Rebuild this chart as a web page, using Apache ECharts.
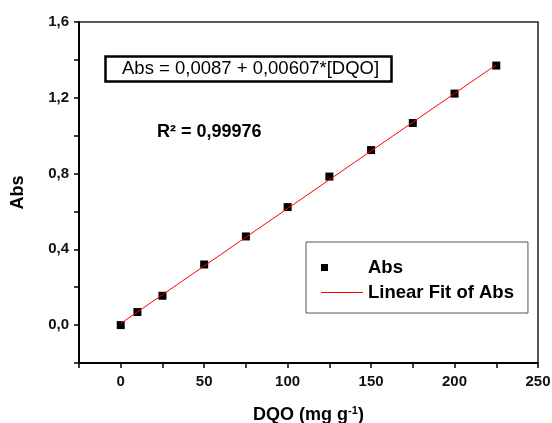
<!DOCTYPE html>
<html>
<head>
<meta charset="utf-8">
<script src="https://cdn.jsdelivr.net/npm/echarts@6/dist/echarts.min.js"></script>
<style>
  html, body { margin: 0; padding: 0; background: #fff; }
  #chart { width: 552px; height: 423px; }
</style>
</head>
<body>
<div id="chart"></div>
<script>
// concentracoes (mg/g) e absorbancias
var dqo = [0, 10, 25, 50, 75, 100, 125, 150, 175, 200, 225];
var abs = [0.0, 0.069, 0.155, 0.32, 0.468, 0.623, 0.784, 0.924, 1.067, 1.222, 1.37];
// reta ajustada: pontos inicial e final
var fitX = [0, 225];
var fitY = [0.0087, 1.3745];
var equacao = 'Abs = 0,0087 + 0,00607*[DQO]';
var r2 = 'R² = 0,99976';

var fonte = '"Liberation Sans", Arial, sans-serif';

function pares(xs, ys){
    var out = [];
    for(var i = 0; i < xs.length; i++){
        out.push([xs[i], ys[i]]);
    }
    return out;
}

var myChart = echarts.init(document.getElementById('chart'));

var option = {
    animation: false,
    textStyle: { fontFamily: fonte },
    title: {
        text: equacao,
        left: 105,
        top: 57,
        padding: [3, 13, 3, 17],
        borderColor: '#000',
        borderWidth: 2.5,
        textStyle: {
            fontFamily: fonte,
            fontWeight: 'normal',
            fontSize: 18.5,
            lineHeight: 18,
            color: '#000'
        }
    },
    graphic: [
        {
            type: 'text',
            left: 157,
            top: 123,
            style: {
                text: r2,
                font: 'bold 18px ' + fonte,
                fill: '#000'
            }
        }
    ],
    legend: {
        orient: 'vertical',
        left: 306,
        top: 242,
        padding: [16, 14, 11, 15],
        itemWidth: 42,
        itemHeight: 7,
        itemGap: 6,
        borderColor: '#555',
        borderWidth: 1,
        textStyle: {
            fontFamily: fonte,
            fontWeight: 'bold',
            fontSize: 18.5,
            lineHeight: 18,
            color: '#000'
        },
        data: [
            { name: 'Abs', icon: 'square' },
            { name: 'Linear Fit of Abs', icon: 'path://M0 0H42V1H0Z' }
        ]
    },
    grid: {
        left: 79,
        top: 22,
        right: 14,
        bottom: 60,
        outerBoundsMode: 'none',
        show: true,
        borderColor: '#222',
        borderWidth: 1.5
    },
    xAxis: {
        type: 'value',
        min: -25,
        max: 250,
        interval: 25,
        splitLine: { show: false },
        axisLine: { onZero: false, lineStyle: { color: '#000', width: 2 } },
        axisTick: { inside: false, length: 5, lineStyle: { color: '#000', width: 1.5 } },
        axisLabel: {
            fontFamily: fonte,
            fontWeight: 'bold',
            fontSize: 15,
            color: '#111',
            margin: 11,
            formatter: function(v){
                if(v < 0 || v % 50 != 0) return '';
                return String(v);
            }
        },
        name: 'DQO (mg g{sup|-1})',
        nameLocation: 'middle',
        nameGap: 42,
        nameTextStyle: {
            fontFamily: fonte,
            fontWeight: 'bold',
            fontSize: 18,
            color: '#000',
            rich: {
                sup: {
                    fontFamily: fonte,
                    fontWeight: 'bold',
                    fontSize: 11,
                    color: '#000',
                    verticalAlign: 'top',
                    padding: [0, 0, 9, 0]
                }
            }
        }
    },
    yAxis: {
        type: 'value',
        min: -0.2,
        max: 1.6,
        interval: 0.2,
        splitLine: { show: false },
        axisLine: { onZero: false, lineStyle: { color: '#000', width: 2 } },
        axisTick: { inside: false, length: 5, lineStyle: { color: '#000', width: 1.5 } },
        axisLabel: {
            fontFamily: fonte,
            fontWeight: 'bold',
            fontSize: 15,
            color: '#111',
            margin: 10,
            formatter: function(v){
                var k = v / 0.4;
                if(Math.abs(k - Math.round(k)) > 1e-6 || v < -1e-6) return '';
                return v.toFixed(1).replace('.', ',');
            }
        },
        name: 'Abs',
        nameLocation: 'middle',
        nameGap: 52,
        nameTextStyle: {
            fontFamily: fonte,
            fontWeight: 'bold',
            fontSize: 18,
            color: '#000'
        }
    },
    series: [
        {
            name: 'Abs',
            type: 'scatter',
            symbol: 'rect',
            symbolSize: 8,
            itemStyle: { color: '#000', opacity: 1 },
            data: pares(dqo, abs),
            z: 2
        },
        {
            name: 'Linear Fit of Abs',
            type: 'line',
            symbol: 'none',
            showSymbol: false,
            lineStyle: { color: '#ff0000', width: 1 },
            itemStyle: { color: '#ff0000' },
            data: pares(fitX, fitY),
            z: 3
        }
    ]
};

myChart.setOption(option);
</script>
</body>
</html>
